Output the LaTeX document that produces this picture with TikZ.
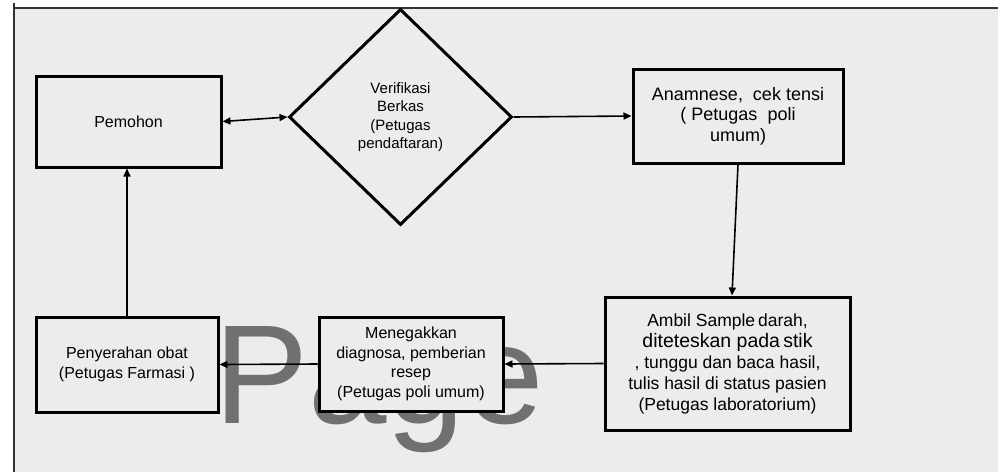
\documentclass[tikz,border=0pt]{standalone}
\usepackage{fontspec}
\setmainfont{Liberation Sans}
\usetikzlibrary{shapes.geometric,arrows.meta}
\definecolor{bgc}{RGB}{237,235,237}
\definecolor{wm}{RGB}{112,112,112}
\begin{document}
\begin{tikzpicture}[x=1pt,y=-1pt,
  box/.style={draw=black,line width=3pt,fill=bgc,inner sep=2pt,align=center,
    font=\fontsize{16}{19.5}\selectfont},
  conn/.style={line width=1.6pt,-{Triangle[length=8pt,width=7pt]}},
  dconn/.style={line width=1.6pt,{Triangle[length=8pt,width=7pt]}-{Triangle[length=8pt,width=7pt]}},
  frame/.style={line width=2pt,black!80}]
\useasboundingbox (0,0) rectangle (998,472);
\fill[white] (0,0) rectangle (998,472);
\fill[bgc] (14,8) rectangle (998,472);
\coordinate (fa) at (14,3);
\coordinate (fb) at (14,472);
\coordinate (fc) at (998,8);
\draw[frame] (fa) -- (fb);
\draw[frame] (14,8) -- (fc);
% watermark
\node[anchor=base west,text=wm,font=\fontsize{141}{141}\selectfont,inner sep=0pt] (wmark) at (214,423) {Page};
% nodes
\node[box,minimum width=185pt,minimum height=91pt] (pem) at (128.5,121.5) {Pemohon};
\node[draw=black,line width=3pt,fill=bgc,shape=diamond,inner sep=0pt,align=center,
  minimum width=223pt,minimum height=216pt,font=\fontsize{15}{18.5}\selectfont] (ver) at (400.5,117)
  {Verifikasi\\Berkas\\(Petugas\\pendaftaran)};
\node[box,minimum width=210pt,minimum height=94pt,font=\fontsize{18}{20.5}\selectfont] (ana) at (738,116)
  {Anamnese,\ \ cek tensi\\( Petugas\ \ poli\\umum)};
\node[box,minimum width=245pt,minimum height=133pt,font=\fontsize{17.5}{21}\selectfont] (amb) at (727.5,363.5)
  {Ambil Sample\,darah,\\{\fontsize{19.5}{21}\selectfont diteteskan pada\,stik}\\, tunggu dan baca hasil,\\tulis hasil di status pasien\\(Petugas laboratorium)};
\node[box,minimum width=184pt,minimum height=94pt] (men) at (411,364)
  {Menegakkan\\diagnosa, pemberian\\resep\\(Petugas poli umum)};
\node[box,minimum width=182pt,minimum height=95pt] (pen) at (127,364.5)
  {Penyerahan obat\\(Petugas Farmasi\ )};
% connectors
\draw[dconn] (pem.east) -- (ver.west);
\draw[conn] (ver.east) -- (ana.west);
\draw[conn] (ana.south) -- ([xshift=4.5pt]amb.north);
\draw[conn] (amb.west) -- (men.east);
\draw[conn] (men.west) -- (pen.east);
\draw[conn] (pen.north) -- (pen.north |- pem.south);
\end{tikzpicture}
\end{document}
